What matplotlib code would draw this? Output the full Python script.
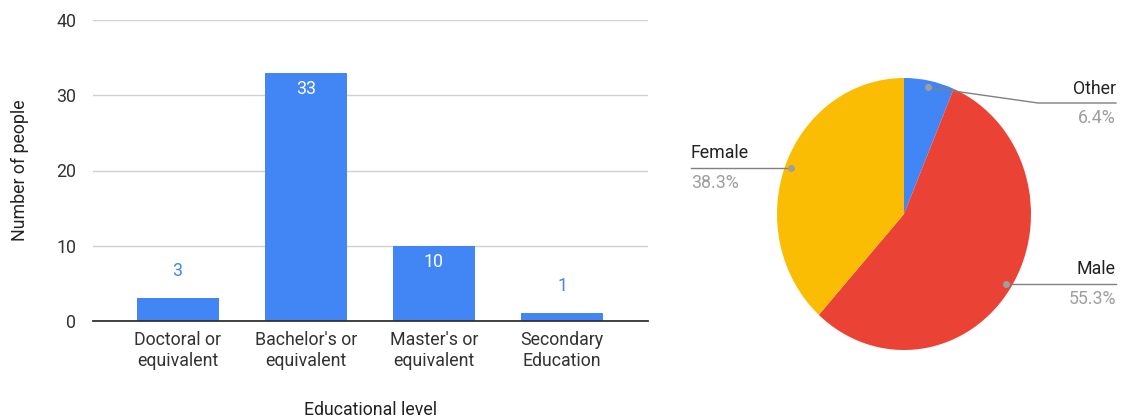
import numpy as np
import matplotlib
matplotlib.use("Agg")
import matplotlib.pyplot as plt

plt.rcParams['font.family'] = ['Roboto', 'DejaVu Sans']

# Bar chart data
levels = ["Doctoral or\nequivalent", "Bachelor's or\nequivalent",
          "Master's or\nequivalent", "Secondary\nEducation"]
counts = [3, 33, 10, 1]
y_ticks = [0, 10, 20, 30, 40]

# Pie chart data
genders = ["Other", "Male", "Female"]
shares = [6.4, 55.3, 38.3]
pie_colors = ["#4285F4", "#EA4335", "#FBBC04"]

blue = "#4285F4"
fs = 12.8
W, H = 1122, 420
fig = plt.figure(figsize=(W / 100, H / 100), dpi=100)

# ---- bar chart ----
ax = fig.add_axes([93 / W, 1 - 321 / H, (648 - 93) / W, (321 - 20) / H])
x = np.arange(len(levels))
bars = ax.bar(x, counts, width=0.64, color=blue, zorder=3)
ax.set_xlim(-0.66, 3.67)
ax.set_ylim(0, 40)
ax.set_yticks(y_ticks)
ax.set_xticks(x)
ax.set_xticklabels(levels, fontsize=fs, color="#333333", linespacing=1.25)
ax.tick_params(axis='y', labelsize=fs, labelcolor="#333333", length=0, pad=12)
ax.tick_params(axis='x', length=0, pad=7)
ax.grid(axis='y', color="#d0d0d0", linewidth=1, zorder=0)
for s in ["top", "right", "left"]:
    ax.spines[s].set_visible(False)
ax.spines["bottom"].set_color("#333333")
ax.spines["bottom"].set_linewidth(1.3)
ax.spines["bottom"].set_zorder(4)
ax.set_ylabel("Number of people", fontsize=fs, color="#222222", labelpad=20)
ax.set_xlabel("Educational level", fontsize=fs, color="#222222", labelpad=22)

for b, v in zip(bars, counts):
    xc = b.get_x() + b.get_width() / 2
    if v > 5:
        ax.text(xc, v - 1.0, str(v), ha='center', va='top', color='white', fontsize=fs, zorder=5)
    else:
        ax.text(xc, v + 2.4, str(v), ha='center', va='bottom', color=blue, fontsize=fs, zorder=5)

# ---- pie chart ----
cx, cy, rx, ry = 904, 214, 127, 136
pax = fig.add_axes([(cx - 1.25 * rx) / W, 1 - (cy + 1.25 * ry) / H, 2.5 * rx / W, 2.5 * ry / H])
wedges, _ = pax.pie(shares, colors=pie_colors, startangle=90, counterclock=False,
                    wedgeprops=dict(linewidth=0))
pax.set_aspect('auto')
pax.set_xlim(-1.25, 1.25)
pax.set_ylim(-1.25, 1.25)


def px2d(px, py):
    return (px - cx) / rx, (cy - py) / ry


line_col = "#808080"
# label layout (pixel positions of elbows / line ends)
label_lines = {
    "Other": [(1038, 103), (1116, 103)],
    "Male": [(1116, 284)],
    "Female": [(691, 168)],
}
for w, name, val in zip(wedges, genders, shares):
    ang = np.deg2rad((w.theta1 + w.theta2) / 2)
    dx, dy = 0.95 * np.cos(ang), 0.95 * np.sin(ang)
    pts = [(dx, dy)] + [px2d(*p) for p in label_lines[name]]
    if name in ("Male", "Female"):
        pts[1] = (pts[1][0], dy)
    xs = [p[0] for p in pts]
    ys = [p[1] for p in pts]
    pax.plot(xs, ys, color=line_col, linewidth=1, clip_on=False, zorder=5)
    pax.plot([dx], [dy], 'o', color="#9e9e9e", markersize=4, clip_on=False, zorder=6)
    ex, ey = pts[-1]
    ha = 'right' if name != "Female" else 'left'
    pax.text(ex, ey + 0.04, name, ha=ha, va='bottom', fontsize=fs, color="#222222")
    pax.text(ex, ey - 0.045, f"{val:.1f}%", ha=ha, va='top', fontsize=fs, color="#9e9e9e")

fig.savefig("out.png", dpi=100)
